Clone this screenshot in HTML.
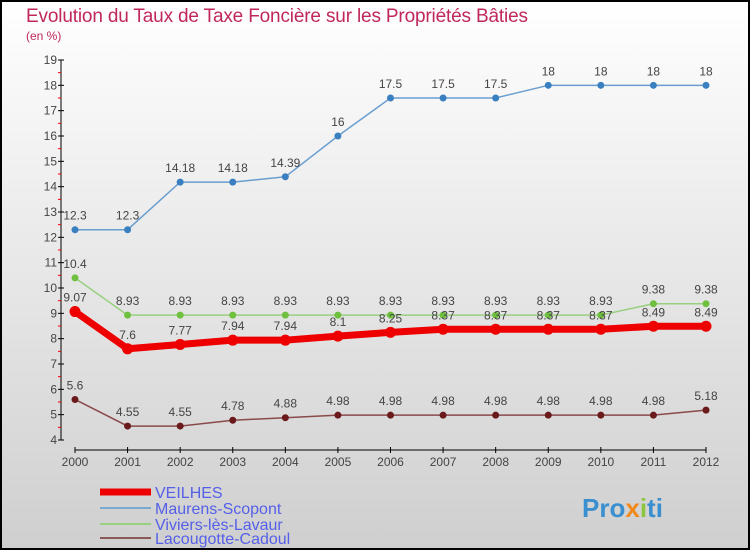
<!DOCTYPE html>
<html><head><meta charset="utf-8"><style>
body{margin:0}
#c{width:750px;height:550px;position:relative;font-family:"Liberation Sans",sans-serif}
</style></head><body>
<div id="c">
<svg id="s" width="750" height="550" xmlns="http://www.w3.org/2000/svg">
<defs><linearGradient id="bg" x1="0" y1="0" x2="0" y2="1"><stop offset="0" stop-color="#ffffff"/><stop offset="1" stop-color="#cfcfcf"/></linearGradient></defs>
<rect x="1" y="1" width="748" height="548" fill="url(#bg)" stroke="#000" stroke-width="2"/>
<text x="26" y="22" font-size="19" fill="#c0285a" textLength="502">Evolution du Taux de Taxe Foncière sur les Propriétés Bâties</text>
<text x="26" y="40" font-size="12" fill="#c0285a">(en %)</text>
<g id="axes"></g><g id="marks"></g>
<g>
<line x1="100" y1="492" x2="151" y2="492" stroke="#e00" stroke-width="7"/>
<text x="155" y="498" font-size="16" fill="#5560e8">VEILHES</text>
<line x1="100" y1="508" x2="151" y2="508" stroke="#7aaad0" stroke-width="2"/>
<text x="155" y="514" font-size="16" fill="#5560e8">Maurens-Scopont</text>
<line x1="100" y1="524" x2="151" y2="524" stroke="#99d080" stroke-width="2"/>
<text x="155" y="530" font-size="16" fill="#5560e8">Viviers-lès-Lavaur</text>
<line x1="100" y1="538" x2="151" y2="538" stroke="#8a5a5a" stroke-width="2"/>
<text x="155" y="544" font-size="16" fill="#5560e8">Lacougotte-Cadoul</text>
</g>
<text x="582" y="517" font-size="26" font-weight="bold" fill="#3a8fd0">Pro<tspan fill="#f08a1a">x</tspan><tspan fill="#8cc63f">i</tspan>ti</text>
</svg></div>
<script>
const years=[2000,2001,2002,2003,2004,2005,2006,2007,2008,2009,2010,2011,2012];
const yTicks=[4,5,6,7,8,9,10,11,12,13,14,15,16,17,18,19];
const veilhes=[9.07,7.6,7.77,7.94,7.94,8.1,8.25,8.37,8.37,8.37,8.37,8.49,8.49];
const maurens=[12.3,12.3,14.18,14.18,14.39,16,17.5,17.5,17.5,18,18,18,18];
const viviers=[10.4,8.93,8.93,8.93,8.93,8.93,8.93,8.93,8.93,8.93,8.93,9.38,9.38];
const lacougotte=[5.6,4.55,4.55,4.78,4.88,4.98,4.98,4.98,4.98,4.98,4.98,4.98,5.18];
const NS="http://www.w3.org/2000/svg";
const xS=i=>75+i*(706-75)/(years.length-1);
const yS=v=>440-(v-4)*(380/15);
function mk(t,a,p){const e=document.createElementNS(NS,t);for(const k in a)e.setAttribute(k,a[k]);p.appendChild(e);return e;}
const ax=document.getElementById('axes'),mg=document.getElementById('marks');
const ya=mk('line',{x1:61,y1:60,x2:61,y2:440,stroke:'#000'},ax);


yTicks.forEach(v=>{const y=yS(v);mk('line',{x1:58,y1:y,x2:64,y2:y,stroke:'#000'},ax);
if(v<19)mk('line',{x1:58,y1:yS(v+0.5),x2:61,y2:yS(v+0.5),stroke:'#e00'},ax);
const t=mk('text',{x:57,y:y+4,'font-size':12,fill:'#444','text-anchor':'end'},ax);t.textContent=v;

});
const xa=mk('line',{x1:75,y1:450,x2:706,y2:450,stroke:'#000'},ax);


years.forEach((yr,i)=>{const x=xS(i);mk('line',{x1:x,y1:447,x2:x,y2:453,stroke:'#000'},ax);
const t=mk('text',{x:x,y:466,'font-size':12,fill:'#444','text-anchor':'middle'},ax);t.textContent=yr;

});
function series(d,name,col,w,r,dot){const g=mk('g',{},mg);


mk('polyline',{points:d.map((v,i)=>xS(i)+','+yS(v)).join(' '),fill:'none',stroke:col,'stroke-width':w},g);
d.forEach((v,i)=>{mk('circle',{cx:xS(i),cy:yS(v),r:r,fill:dot},g);
const t=mk('text',{x:xS(i),y:yS(v)-10,'font-size':12,fill:'#444','text-anchor':'middle'},g);t.textContent=v;});}
series(maurens,'series-maurens-scopont','#6a9ed0',1.5,3.5,'#3a80c0');
series(viviers,'series-viviers-les-lavaur','#99d080',1.5,3.5,'#70c040');
series(lacougotte,'series-lacougotte-cadoul','#8a4a4a',1.5,3.5,'#6a1a1a');
series(veilhes,'series-veilhes','#e00',7,5.5,'#e00');
</script>
</body></html>
